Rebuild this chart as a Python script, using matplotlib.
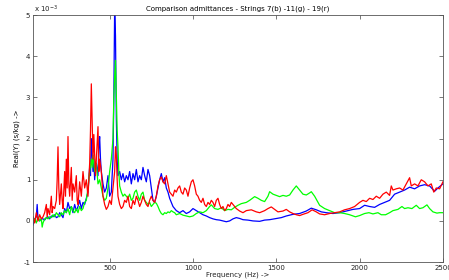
import matplotlib
matplotlib.use("Agg")
import matplotlib.pyplot as plt
from matplotlib.ticker import FuncFormatter
import numpy as np

# ---- data (values in units of 1e-3 s/kg) ----
freq_b = [40,50,60,65,70,80,90,100,110,120,130,140,150,160,170,180,190,200,210,220,230,240,250,260,270,280,290,300,310,320,330,340,350,360,370,380,385,390,395,400,405,410,415,420,430,435,440,445,450,460,470,480,490,500,510,520,525,530,535,540,545,550,560,570,580,590,600,610,620,630,640,650,660,670,680,690,700,710,720,730,740,750,760,770,780,790,800,810,820,830,840,850,860,870,880,890,900,920,940,960,980,1000,1020,1040,1060,1080,1100,1120,1140,1160,1180,1200,1220,1240,1260,1280,1300,1330,1360,1400,1430,1460,1500,1530,1560,1600,1640,1680,1710,1740,1770,1800,1840,1880,1920,1960,2000,2030,2060,2090,2120,2150,2180,2210,2240,2270,2300,2330,2360,2390,2420,2450,2470,2500]
val_b = [-0.1,0.05,0.1,0.4,0.05,0.0,0.05,0.05,0.02,0.08,0.1,0.05,0.12,0.1,0.15,0.08,0.1,0.2,0.15,0.08,0.3,0.2,0.45,0.3,0.35,0.2,0.4,0.25,0.35,0.5,0.3,0.45,0.4,0.55,0.7,1.3,1.1,2.0,1.6,1.2,1.5,1.0,1.3,1.4,1.1,1.8,2.05,1.5,1.2,0.9,0.7,0.8,1.1,0.6,0.7,1.5,3.0,5.2,4.5,2.5,1.5,1.1,1.2,1.0,1.15,0.95,1.1,1.0,1.2,0.9,1.15,1.0,1.25,0.95,1.1,1.0,1.3,1.1,0.95,1.25,1.1,0.8,0.5,0.45,0.6,0.8,1.0,1.15,0.95,1.05,0.8,0.7,0.55,0.45,0.35,0.3,0.25,0.2,0.25,0.18,0.22,0.3,0.25,0.2,0.15,0.12,0.08,0.05,0.03,0.02,0.0,-0.02,0.0,0.05,0.08,0.06,0.03,0.02,0.0,-0.01,0.02,0.03,0.06,0.08,0.12,0.16,0.18,0.24,0.31,0.27,0.22,0.2,0.18,0.2,0.24,0.28,0.3,0.38,0.35,0.33,0.4,0.45,0.5,0.65,0.7,0.75,0.82,0.78,0.85,0.88,0.85,0.72,0.8,0.9]

freq_g = [40,50,60,70,80,90,95,100,110,120,130,140,150,160,170,180,190,200,210,220,230,240,250,260,270,280,290,300,310,320,330,340,350,360,370,380,390,395,400,410,420,430,440,450,460,470,480,490,500,510,520,525,530,535,540,545,550,555,560,570,580,590,600,610,620,630,640,650,660,670,680,690,700,710,720,730,740,750,760,770,780,790,800,810,820,830,840,850,860,870,880,890,900,920,940,960,980,1000,1020,1040,1060,1080,1100,1110,1130,1150,1170,1190,1210,1230,1250,1270,1290,1320,1340,1370,1390,1410,1430,1450,1460,1480,1500,1520,1540,1560,1580,1600,1620,1640,1660,1680,1700,1710,1730,1760,1790,1820,1850,1880,1910,1940,1975,2000,2030,2056,2080,2110,2130,2156,2180,2200,2230,2254,2270,2290,2314,2340,2360,2380,2404,2420,2440,2464,2480,2500]
val_g = [0.0,0.05,-0.05,0.1,0.0,0.05,-0.15,-0.05,0.05,0.08,0.05,0.1,0.08,0.15,0.1,0.2,0.15,0.1,0.2,0.15,0.25,0.2,0.3,0.15,0.35,0.25,0.2,0.3,0.2,0.35,0.25,0.3,0.45,0.5,0.8,1.2,1.5,1.3,1.6,1.2,1.4,0.9,1.0,0.8,0.6,0.5,0.55,0.8,1.2,1.5,2.0,3.0,3.5,3.9,3.0,2.2,1.8,1.2,0.85,0.7,0.6,0.65,0.6,0.55,0.65,0.5,0.55,0.7,0.75,0.6,0.5,0.65,0.7,0.5,0.45,0.4,0.45,0.35,0.4,0.45,0.43,0.35,0.25,0.18,0.15,0.2,0.18,0.22,0.2,0.25,0.22,0.2,0.15,0.18,0.14,0.12,0.1,0.12,0.18,0.22,0.2,0.25,0.35,0.39,0.3,0.28,0.32,0.25,0.28,0.27,0.33,0.38,0.42,0.45,0.5,0.59,0.55,0.5,0.47,0.6,0.71,0.65,0.62,0.59,0.62,0.6,0.63,0.75,0.85,0.75,0.65,0.63,0.68,0.71,0.6,0.38,0.3,0.25,0.2,0.2,0.18,0.15,0.1,0.13,0.18,0.2,0.17,0.2,0.15,0.15,0.2,0.25,0.28,0.35,0.3,0.32,0.3,0.38,0.3,0.32,0.39,0.3,0.22,0.19,0.2,0.2]

freq_r = [40,50,60,70,80,90,100,110,120,125,130,140,150,155,160,170,180,185,190,195,200,210,215,220,230,235,240,245,250,255,260,270,275,280,290,300,305,310,320,330,340,350,360,370,380,385,390,395,400,405,410,415,420,430,435,440,450,460,470,480,490,500,510,520,530,535,540,545,550,560,570,580,590,600,610,620,630,640,650,660,670,680,690,700,710,720,730,740,750,760,770,780,790,800,810,820,830,840,850,860,870,880,890,900,910,920,930,940,950,960,970,980,990,1000,1010,1020,1030,1040,1050,1060,1070,1080,1090,1100,1110,1120,1130,1140,1150,1160,1170,1180,1190,1200,1210,1220,1230,1240,1260,1280,1300,1320,1350,1380,1400,1430,1450,1470,1490,1510,1540,1560,1580,1600,1620,1640,1660,1690,1715,1740,1760,1790,1820,1850,1880,1910,1940,1970,2000,2020,2040,2060,2080,2100,2120,2140,2160,2180,2190,2200,2220,2240,2260,2280,2300,2310,2330,2350,2370,2390,2410,2430,2445,2460,2480,2500]
val_r = [0.1,-0.05,0.2,0.0,0.15,0.05,0.1,0.2,0.4,0.1,0.3,0.15,0.6,0.2,0.35,0.3,0.5,1.0,1.8,0.8,0.4,0.9,0.5,0.3,1.2,0.6,1.5,0.8,2.05,0.9,0.6,1.3,0.5,0.9,0.7,1.1,0.5,0.4,0.95,0.6,1.2,0.8,1.0,0.6,1.4,2.2,3.33,2.4,1.5,2.1,1.6,1.1,1.5,2.29,1.2,1.5,1.2,0.6,0.4,0.28,0.35,0.5,0.4,0.8,1.2,1.8,1.6,1.0,0.6,0.4,0.3,0.35,0.5,0.45,0.6,0.35,0.3,0.5,0.4,0.6,0.5,0.35,0.45,0.6,0.5,0.4,0.35,0.5,0.6,0.5,0.45,0.6,0.85,1.0,1.07,0.95,0.9,1.1,0.9,0.7,0.65,0.6,0.75,0.7,0.8,0.85,0.7,0.65,0.8,0.75,0.6,0.8,0.95,1.0,0.85,0.65,0.6,0.5,0.45,0.55,0.4,0.35,0.45,0.4,0.5,0.45,0.35,0.5,0.55,0.4,0.3,0.35,0.25,0.3,0.4,0.35,0.45,0.4,0.3,0.24,0.2,0.25,0.27,0.22,0.2,0.25,0.3,0.34,0.28,0.22,0.24,0.28,0.22,0.18,0.15,0.13,0.16,0.2,0.27,0.22,0.17,0.15,0.18,0.2,0.22,0.27,0.3,0.35,0.45,0.5,0.47,0.55,0.52,0.6,0.55,0.65,0.7,0.62,0.85,0.75,0.78,0.8,0.75,0.9,1.05,0.85,0.9,0.85,1.0,0.95,0.85,0.9,0.7,0.8,0.78,0.95]

scale = 1e-3
x_ticks = [500, 1000, 1500, 2000, 2500]
y_ticks = [-1, 0, 1, 2, 3, 4, 5]

fig = plt.figure(figsize=(4.49, 2.80), dpi=100)
ax = fig.add_axes([0.0735, 0.064, 0.913, 0.882])

ax.plot(freq_b, np.array(val_b) * scale, color=(0, 0, 1), lw=0.9)
ax.plot(freq_g, np.array(val_g) * scale, color=(0, 1, 0), lw=0.9)
ax.plot(freq_r, np.array(val_r) * scale, color=(1, 0, 0), lw=0.9)

ax.set_xlim(40, 2500)
ax.set_ylim(-1e-3, 5e-3)
ax.set_xticks(x_ticks)
ax.set_yticks(np.array(y_ticks) * scale)
ax.yaxis.set_major_formatter(FuncFormatter(lambda v, p: f"{v / scale:g}"))

ax.tick_params(direction='in', top=True, right=True, labelsize=5, length=3, width=0.5,
               colors='#444444', labelcolor='#222222', pad=2)
for s in ax.spines.values():
    s.set_linewidth(0.6)
    s.set_color('#555555')

fig.text(0.0735 + 0.002, 1 - 9.5 / 280, 'x 10$^{-3}$', fontsize=5, ha='left', va='center', color='#222222')
ax.set_title('Comparison admittances - Strings 7(b) -11(g) - 19(r)', fontsize=5, pad=3)
fig.text(238 / 449, 1 - 274.5 / 280, 'Frequency (Hz) ->', fontsize=5, ha='center', va='center', color='#222222')
ax.set_ylabel('Real(Y) (s/kg) ->', fontsize=5, labelpad=2)

fig.savefig('out.png', dpi=100)
